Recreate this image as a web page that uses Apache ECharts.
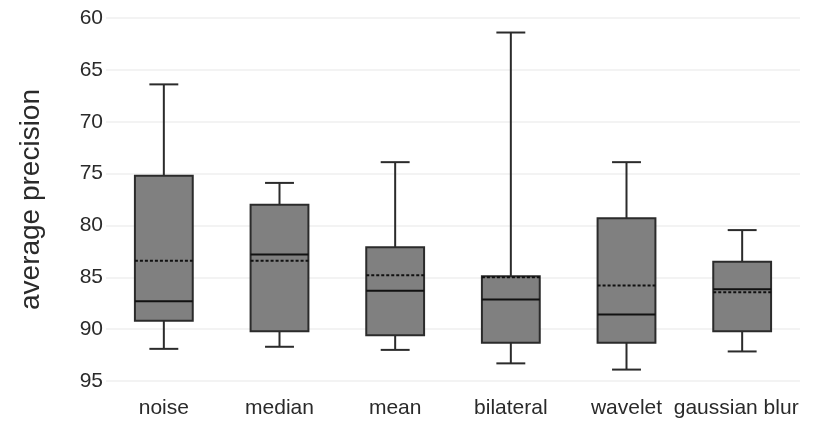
<!DOCTYPE html>
<html>
<head>
<meta charset="utf-8">
<script src="https://cdn.jsdelivr.net/npm/echarts@6/dist/echarts.min.js"></script>
<style>
html,body{margin:0;padding:0;background:#fff;}
#chart{width:827px;height:421px;}
</style>
</head>
<body>
<div id="chart"></div>
<script>
const categories = ['noise', 'median', 'mean', 'bilateral', 'wavelet', 'gaussian blur'];
const whiskerLow = [66.4, 75.9, 73.9, 61.4, 73.9, 80.45];
const q1 = [75.2, 78.0, 82.1, 84.9, 79.3, 83.5];
const medians = [87.3, 82.8, 86.3, 87.15, 88.6, 86.15];
const q3 = [89.2, 90.2, 90.6, 91.3, 91.3, 90.2];
const whiskerHigh = [91.9, 91.7, 92.0, 93.3, 93.9, 92.15];
const means = [83.4, 83.4, 84.8, 85.0, 85.8, 86.45];
const yTicks = [60, 65, 70, 75, 80, 85, 90, 95];

const rows = categories.map((c, i) => [i, whiskerLow[i], q1[i], medians[i], q3[i], whiskerHigh[i], means[i]]);

const FONT = 'Liberation Sans, Arial, sans-serif';

function renderBox(params, api) {
  const idx = api.value(0);
  const cx = api.coord([idx, 0])[0];
  const band = api.size([1, 0])[0];
  const bw = band * 0.5;
  const cw = band * 0.25;
  const Y = v => api.coord([idx, v])[1];
  const yLow = Y(api.value(1)), yQ1 = Y(api.value(2)), yMed = Y(api.value(3)),
        yQ3 = Y(api.value(4)), yHigh = Y(api.value(5)), yMean = Y(api.value(6));
  const lineStyle = { stroke: '#2b2b2b', lineWidth: 2 };
  const top = Math.min(yQ1, yQ3), bot = Math.max(yQ1, yQ3);
  return {
    type: 'group',
    children: [
      { type: 'line', shape: { x1: cx, y1: yLow, x2: cx, y2: yQ1 }, style: lineStyle },
      { type: 'line', shape: { x1: cx, y1: yQ3, x2: cx, y2: yHigh }, style: lineStyle },
      { type: 'line', shape: { x1: cx - cw / 2, y1: yLow, x2: cx + cw / 2, y2: yLow }, style: lineStyle },
      { type: 'line', shape: { x1: cx - cw / 2, y1: yHigh, x2: cx + cw / 2, y2: yHigh }, style: lineStyle },
      { type: 'rect', shape: { x: cx - bw / 2, y: top, width: bw, height: bot - top },
        style: { fill: '#808080', stroke: '#2b2b2b', lineWidth: 2 } },
      { type: 'line', shape: { x1: cx - bw / 2, y1: yMed, x2: cx + bw / 2, y2: yMed },
        style: { stroke: '#111', lineWidth: 2 } },
      { type: 'line', shape: { x1: cx - bw / 2, y1: yMean, x2: cx + bw / 2, y2: yMean },
        style: { stroke: '#111', lineWidth: 2, lineDash: [3, 2] } }
    ]
  };
}

const chart = echarts.init(document.getElementById('chart'), null, { renderer: 'canvas' });
chart.setOption({
  animation: false,
  backgroundColor: '#fff',
  grid: { left: 106, right: 27, top: 18, bottom: 40 },
  xAxis: {
    type: 'category',
    data: categories,
    axisLine: { show: false },
    axisTick: { show: false },
    axisLabel: {
      color: '#2a2a2a', fontSize: 21, fontFamily: FONT, margin: 17, interval: 0,
      formatter: (v, i) => i === categories.length - 1 ? '{last|' + v + '}' : v,
      rich: { last: { color: '#2a2a2a', fontSize: 21, fontFamily: FONT, padding: [0, 12, 0, 0] } }
    },
    splitLine: { show: false }
  },
  yAxis: {
    type: 'value',
    inverse: true,
    min: yTicks[0],
    max: yTicks[yTicks.length - 1],
    interval: 5,
    name: 'average precision',
    nameLocation: 'middle',
    nameGap: 61,
    nameTextStyle: { color: '#2a2a2a', fontSize: 28, fontFamily: FONT },
    axisLine: { show: false },
    axisTick: { show: false },
    axisLabel: { color: '#2a2a2a', fontSize: 21, fontFamily: FONT, margin: 3 },
    splitLine: { lineStyle: { color: '#efefef', width: 1.5 } }
  },
  series: [{
    type: 'custom',
    renderItem: renderBox,
    encode: { x: 0, y: [1, 2, 3, 4, 5, 6] },
    data: rows,
    clip: false
  }]
});
</script>
</body>
</html>
